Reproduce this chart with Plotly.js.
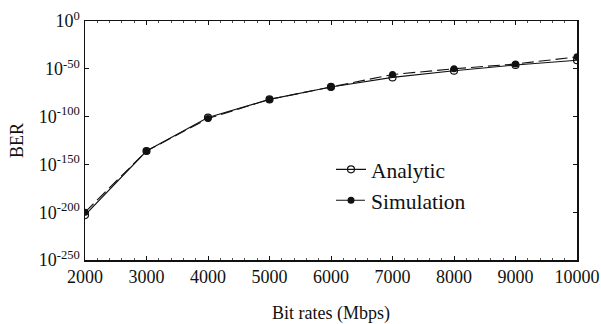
<!DOCTYPE html>
<html>
<head>
<meta charset="utf-8">
<script src="https://cdn.plot.ly/plotly-3.0.1.min.js"></script>
<style>html,body{margin:0;padding:0;background:#fff;}#chart{width:601px;height:324px;}</style>
</head>
<body>
<div id="chart"></div>
<script>
const bitRates = [2000, 3000, 4000, 5000, 6000, 7000, 8000, 9000, 10000];
const analyticExp = [-203, -136, -101, -82, -69, -59, -52, -46, -41];
const simulationExp = [-200, -136, -102, -82, -69, -56, -50, -45, -37.5];
const yTickExp = [0, -50, -100, -150, -200, -250];
const yTickText = yTickExp.map(e => '10<sup>' + e + '</sup>');
const xTickVals = [2000, 3000, 4000, 5000, 6000, 7000, 8000, 9000, 10000];

const toBER = arr => arr.map(e => Math.pow(10, e));
const FAM = 'Liberation Serif, Times New Roman, serif';
const f = (size) => ({family: FAM, size: size, color: '#111'});

const traces = [
  {
    x: bitRates, y: toBER(analyticExp), name: 'Analytic', type: 'scatter', mode: 'lines+markers',
    line: {color: '#111', width: 1.1},
    marker: {symbol: 'circle-open', size: 7, color: '#111', line: {width: 1.2, color: '#111'}}
  },
  {
    x: bitRates, y: toBER(simulationExp), name: 'Simulation', type: 'scatter', mode: 'lines+markers',
    line: {color: '#111', width: 1.1, dash: '12px,5px'},
    marker: {symbol: 'circle', size: 7, color: '#111'}
  }
];

const layout = {
  width: 601, height: 324,
  margin: {l: 85, r: 24, t: 21, b: 64},
  paper_bgcolor: '#fff', plot_bgcolor: '#fff',
  font: f(18),
  showlegend: true,
  legend: {x: 0.50, y: 0.465, xanchor: 'left', yanchor: 'top', bgcolor: 'rgba(0,0,0,0)',
           font: f(21.5), itemwidth: 30, tracegroupgap: 0},
  xaxis: {
    range: [2000, 10000], tickvals: xTickVals, ticktext: xTickVals.map(String),
    showgrid: false, zeroline: false, showline: true, linecolor: '#111', linewidth: 1.5, mirror: 'ticks',
    ticks: 'inside', ticklen: 4, tickcolor: '#111',
    minor: {dtick: 200, ticks: 'inside', ticklen: 2, tickcolor: '#555', showgrid: false},
    tickfont: f(18),
    title: {text: 'Bit rates (Mbps)', font: f(18), standoff: 21}
  },
  yaxis: {
    type: 'log', range: [-250, 0], tickvals: toBER(yTickExp), ticktext: yTickText,
    showgrid: false, zeroline: false, showline: true, linecolor: '#111', linewidth: 1.5, mirror: 'ticks',
    ticks: 'inside', ticklen: 4, tickcolor: '#111',
    tickfont: f(18),
    title: {text: 'BER', font: f(18), standoff: 10}
  }
};

Plotly.newPlot('chart', traces, layout, {staticPlot: true, displayModeBar: false});
</script>
</body>
</html>
